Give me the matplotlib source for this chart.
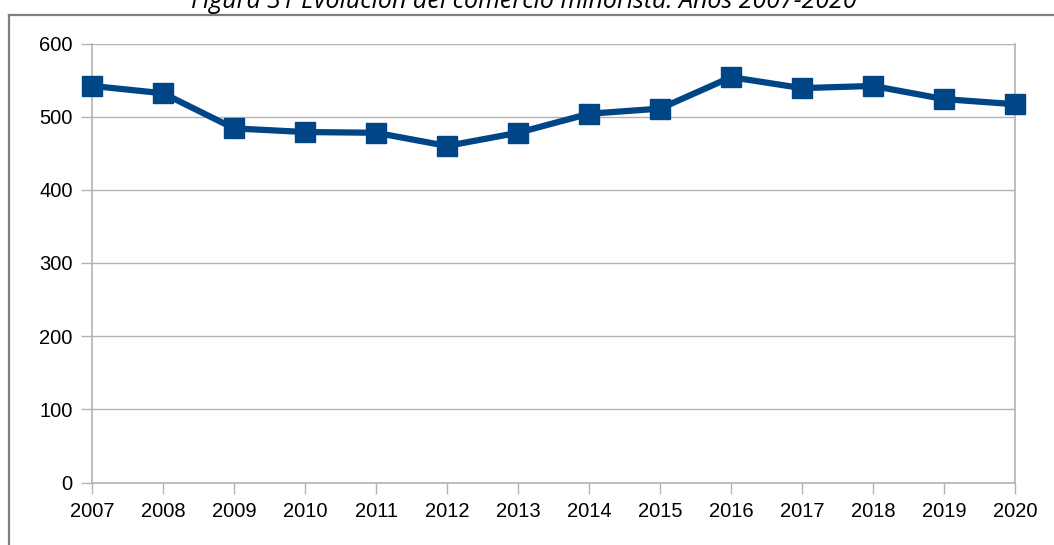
import matplotlib.pyplot as plt
from matplotlib.lines import Line2D

# Datos
anios = [2007, 2008, 2009, 2010, 2011, 2012, 2013, 2014, 2015, 2016, 2017, 2018, 2019, 2020]
comercios = [542, 532, 484, 479, 478, 460, 478, 504, 511, 554, 539, 542, 524, 517]
ticks_y = [0, 100, 200, 300, 400, 500, 600]
titulo = "Figura 31 Evolución del comercio minorista. Años 2007-2020"

AZUL = "#004586"
GRIS = "#b3b3b3"

fig = plt.figure(figsize=(10.54, 5.45), dpi=100)
ax = fig.add_axes([92 / 1054, 1 - 482.5 / 545, (1015 - 92) / 1054, (482.5 - 43.5) / 545])

ax.plot(anios, comercios, color=AZUL, lw=4.5, marker="s", markersize=14,
        markerfacecolor=AZUL, markeredgecolor=AZUL, solid_joinstyle="miter", zorder=5,
        clip_on=False)

ax.set_xlim(anios[0], anios[-1])
ax.set_ylim(0, 600)
ax.set_xticks(anios)
ax.set_yticks(ticks_y)

ax.grid(axis="y", color=GRIS, lw=1)
ax.set_axisbelow(True)
for lado in ["left", "right", "bottom", "top"]:
    ax.spines[lado].set_color(GRIS)
    ax.spines[lado].set_linewidth(1.2)
ax.spines["top"].set_visible(False)

ax.tick_params(axis="both", direction="out", length=8, width=1, color=GRIS,
               labelsize=14.5, labelcolor="black", pad=6)
for t in ax.get_xticklabels() + ax.get_yticklabels():
    t.set_fontfamily("Liberation Sans")

# marco exterior (recortado en la imagen original)
fig.add_artist(Line2D([9 / 1054, 1], [1 - 14.5 / 545, 1 - 14.5 / 545],
                      transform=fig.transFigure, color="#7f7f7f", lw=1.6))
fig.add_artist(Line2D([9 / 1054, 9 / 1054], [0, 1 - 14.5 / 545],
                      transform=fig.transFigure, color="#7f7f7f", lw=1.6))

fig.text(524 / 1054, 1 - 7.5 / 545, titulo, ha="center", va="baseline",
         fontsize=18, style="italic", family="Open Sans", color="black")

fig.savefig("out.png", dpi=100)
